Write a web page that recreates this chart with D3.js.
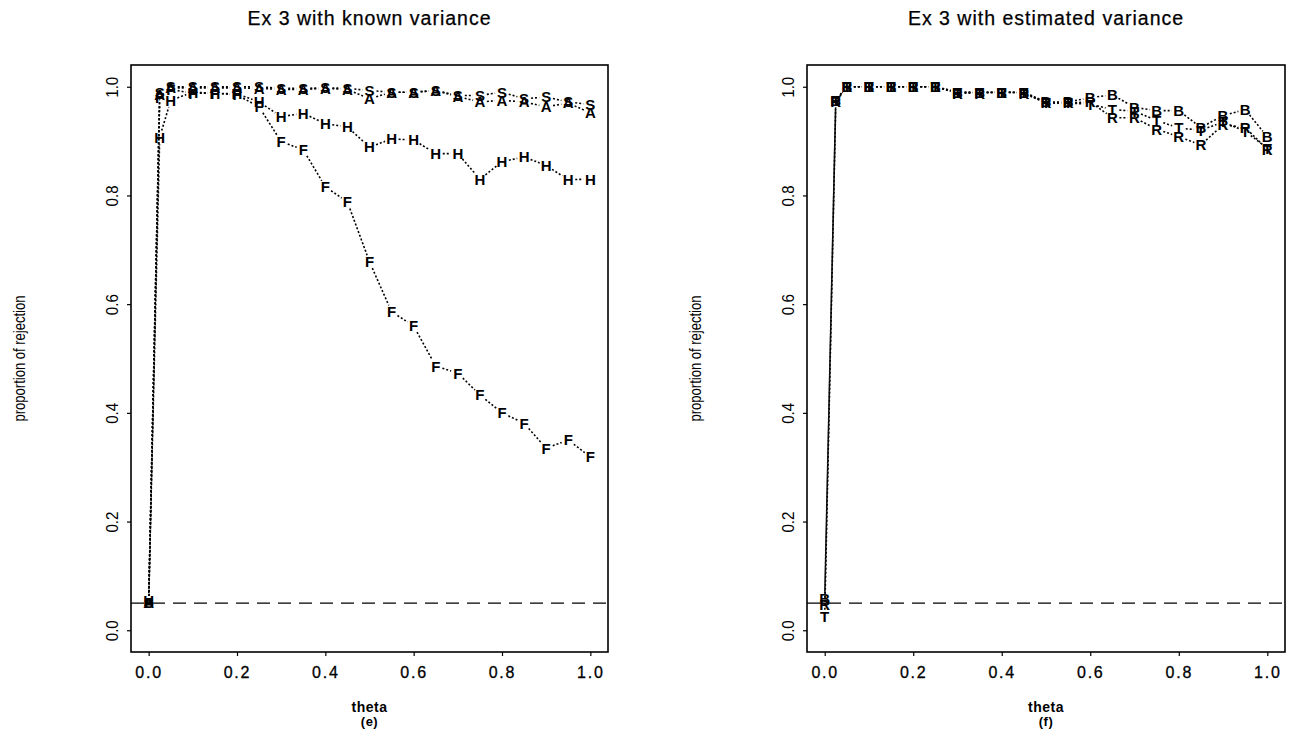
<!DOCTYPE html>
<html><head><meta charset="utf-8">
<script src="https://cdn.jsdelivr.net/npm/d3@7"></script>
<style>body{margin:0;background:#fff}svg{display:block}</style>
</head><body>
<svg id="c" width="1301" height="730"></svg>
<script>
const theta = [0, 0.025, 0.05, 0.1, 0.15, 0.2, 0.25, 0.3, 0.35, 0.4, 0.45, 0.5, 0.55, 0.6, 0.65, 0.7, 0.75, 0.8, 0.85, 0.9, 0.95, 1.0];
// Panel (e): known variance
const seriesS = [0.05, 0.99, 1.0, 1.0, 1.0, 1.0, 1.0, 0.997, 0.997, 0.998, 0.997, 0.993, 0.99, 0.99, 0.993, 0.984, 0.984, 0.99, 0.978, 0.981, 0.972, 0.967];
const seriesA = [0.05, 0.985, 0.998, 0.998, 0.998, 0.998, 0.997, 0.995, 0.995, 0.997, 0.995, 0.978, 0.99, 0.99, 0.993, 0.982, 0.972, 0.975, 0.972, 0.963, 0.97, 0.952];
const seriesH = [0.055, 0.907, 0.975, 0.99, 0.988, 0.987, 0.972, 0.945, 0.951, 0.932, 0.926, 0.889, 0.904, 0.902, 0.877, 0.877, 0.83, 0.862, 0.871, 0.855, 0.829, 0.83];
const seriesF = [0.05, 0.98, 0.995, 0.988, 0.988, 0.985, 0.963, 0.899, 0.884, 0.816, 0.788, 0.678, 0.586, 0.56, 0.486, 0.473, 0.433, 0.40, 0.381, 0.335, 0.35, 0.319];
// Panel (f): estimated variance
const seriesB = [0.058, 0.975, 1.0, 1.0, 1.0, 1.0, 1.0, 0.99, 0.99, 0.99, 0.99, 0.972, 0.972, 0.98, 0.985, 0.962, 0.956, 0.956, 0.925, 0.947, 0.958, 0.908];
const seriesT = [0.025, 0.975, 1.0, 1.0, 1.0, 1.0, 1.0, 0.99, 0.99, 0.99, 0.99, 0.97, 0.97, 0.968, 0.958, 0.955, 0.938, 0.924, 0.92, 0.935, 0.918, 0.887];
const seriesR = [0.047, 0.972, 1.0, 1.0, 1.0, 1.0, 1.0, 0.988, 0.988, 0.99, 0.988, 0.97, 0.97, 0.972, 0.943, 0.943, 0.922, 0.908, 0.893, 0.93, 0.925, 0.885];
const refLevel = 0.05;
const xTicks = [0, 0.2, 0.4, 0.6, 0.8, 1.0];
const yTicks = [0, 0.2, 0.4, 0.6, 0.8, 1.0];
const titles = ["Ex 3 with known variance", "Ex 3 with estimated variance"];
const subLabels = ["(e)", "(f)"];
const xLabel = "theta";
const yLabel = "proportion of rejection";

const panels = [
  {x0: 131, x1: 608, title: titles[0], sub: subLabels[0],
   series: [{k:"S", v: seriesS}, {k:"A", v: seriesA}, {k:"H", v: seriesH}, {k:"F", v: seriesF}]},
  {x0: 807, x1: 1285, title: titles[1], sub: subLabels[1],
   series: [{k:"B", v: seriesB}, {k:"T", v: seriesT}, {k:"R", v: seriesR}]}
];
const y0 = 652, y1 = 65;
const svg = d3.select("#c");
const sans = "'Liberation Sans', Arial, Helvetica, sans-serif";

panels.forEach(p => {
  const x = d3.scaleLinear().domain([-0.04, 1.04]).range([p.x0, p.x1]);
  const y = d3.scaleLinear().domain([-0.04, 1.04]).range([y0, y1]);
  const g = svg.append("g");
  const cx = (p.x0 + p.x1) / 2;

  // title
  g.append("text").attr("x", cx).attr("y", 25).attr("text-anchor", "middle")
    .attr("font-family", sans).attr("font-size", 19.5).attr("letter-spacing", 1)
    .attr("stroke", "#000").attr("stroke-width", 0.25)
    .text(p.title);

  // reference dashed line
  g.append("line").attr("x1", p.x0).attr("x2", p.x1)
    .attr("y1", y(refLevel)).attr("y2", y(refLevel))
    .attr("stroke", "#000").attr("stroke-width", 1.3).attr("stroke-dasharray", "13,8");

  // axes
  const ax = g.append("g").attr("transform", `translate(0,${y0})`)
    .call(d3.axisBottom(x).tickValues(xTicks).tickSize(4).tickPadding(11).tickFormat(d3.format(".1f")));
  ax.select(".domain").remove();
  ax.selectAll("line").attr("stroke-width", 1.2);
  ax.selectAll("text").attr("font-family", sans).attr("font-size", 16)
    .attr("letter-spacing", 1.8).attr("fill", "#000")
    .attr("stroke", "#000").attr("stroke-width", 0.3);

  const ay = g.append("g").attr("transform", `translate(${p.x0},0)`)
    .call(d3.axisLeft(y).tickValues(yTicks).tickSize(4).tickFormat(d3.format(".1f")));
  ay.select(".domain").remove();
  ay.selectAll("line").attr("stroke-width", 1.2);
  ay.selectAll("text").remove();
  ay.selectAll(".tick").append("text")
    .attr("transform", "translate(-13,0) rotate(-90)")
    .attr("text-anchor", "middle")
    .attr("font-family", sans).attr("font-size", 17).attr("fill", "#000")
    .attr("textLength", 21).attr("lengthAdjust", "spacingAndGlyphs")
    .text(d => d3.format(".1f")(d));

  // axis titles
  g.append("text").attr("x", cx).attr("y", 712).attr("text-anchor", "middle")
    .attr("font-family", sans).attr("font-weight", "bold").attr("font-size", 14)
    .attr("letter-spacing", 0.5).text(xLabel);
  g.append("text").attr("x", cx).attr("y", 726).attr("text-anchor", "middle")
    .attr("font-family", sans).attr("font-weight", "bold").attr("font-size", 13)
    .attr("letter-spacing", 0.5).text(p.sub);
  g.append("text").attr("transform", `translate(${p.x0 - 106},${(y0 + y1) / 2}) rotate(-90)`)
    .attr("text-anchor", "middle").attr("font-family", sans).attr("font-size", 16)
    .attr("textLength", 126).attr("lengthAdjust", "spacingAndGlyphs")
    .text(yLabel);

  // series: dotted lines broken around letters
  const gap = 7;
  p.series.forEach(s => {
    const pts = theta.map((t, i) => [x(t), y(s.v[i])]);
    for (let i = 0; i < pts.length - 1; i++) {
      const [ax1, ay1] = pts[i], [bx, by] = pts[i + 1];
      const dx = bx - ax1, dy = by - ay1, d = Math.hypot(dx, dy);
      if (d <= 2 * gap) continue;
      const ux = dx / d, uy = dy / d;
      g.append("line")
        .attr("x1", ax1 + ux * gap).attr("y1", ay1 + uy * gap)
        .attr("x2", bx - ux * gap).attr("y2", by - uy * gap)
        .attr("stroke", "#000").attr("stroke-width", 1.6).attr("stroke-dasharray", "2,2");
    }
    g.selectAll(null).data(theta).enter().append("text")
      .attr("x", t => x(t)).attr("y", (t, i) => y(s.v[i]))
      .attr("dy", "0.36em").attr("text-anchor", "middle")
      .attr("font-family", sans).attr("font-weight", "bold").attr("font-size", 15)
      .text(s.k);
  });

  // box
  g.append("rect").attr("x", p.x0).attr("y", y1).attr("width", p.x1 - p.x0).attr("height", y0 - y1)
    .attr("fill", "none").attr("stroke", "#000").attr("stroke-width", 1.6);
});
</script>
</body></html>
